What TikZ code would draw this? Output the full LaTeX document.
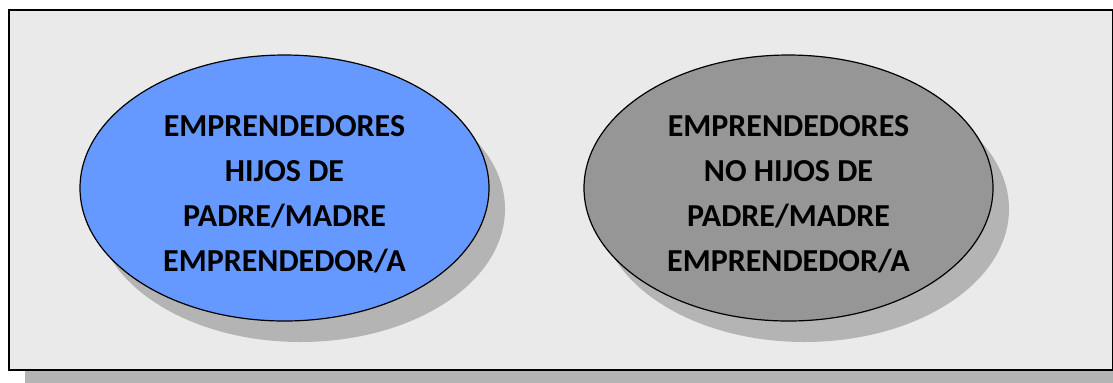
\documentclass[tikz,border=0pt]{standalone}
\usepackage{fontspec}
\setmainfont{Carlito}
\usetikzlibrary{shapes.geometric,shadows}
\definecolor{panelgrey}{HTML}{EAEAEA}
\definecolor{shadowgrey}{HTML}{B4B4B4}
\definecolor{hijosblue}{HTML}{6699FF}
\definecolor{nohijosgrey}{HTML}{969696}
\newcommand{\lineatop}{\rule{0pt}{16.5pt}}
\tikzset{
  grupo/.style={ellipse, draw, line width=0.6pt, inner sep=0pt,
    minimum width=204.5pt, minimum height=133pt, align=center,
    font=\bfseries\fontsize{16}{22.5}\selectfont,
    drop shadow={shadow xshift=8pt, shadow yshift=-10.5pt, fill=shadowgrey, opacity=1}}
}
\begin{document}
\begin{tikzpicture}[x=0.5pt,y=-0.5pt]
  \useasboundingbox (0,0) rectangle (1113,382);
  \node[draw, line width=1pt, fill=panelgrey, anchor=north west, inner sep=0pt,
    minimum width=552pt, minimum height=180pt,
    drop shadow={shadow xshift=8pt, shadow yshift=-7pt, fill=shadowgrey, opacity=1}] (marco) at (8,9) {};
  \node[grupo, fill=hijosblue] (hijos) at (284.5,188) {\lineatop EMPRENDEDORES\\HIJOS DE\\PADRE/MADRE\\EMPRENDEDOR/A};
  \node[grupo, fill=nohijosgrey] (nohijos) at (788.5,188) {\lineatop EMPRENDEDORES\\NO HIJOS DE\\PADRE/MADRE\\EMPRENDEDOR/A};
\end{tikzpicture}
\end{document}
